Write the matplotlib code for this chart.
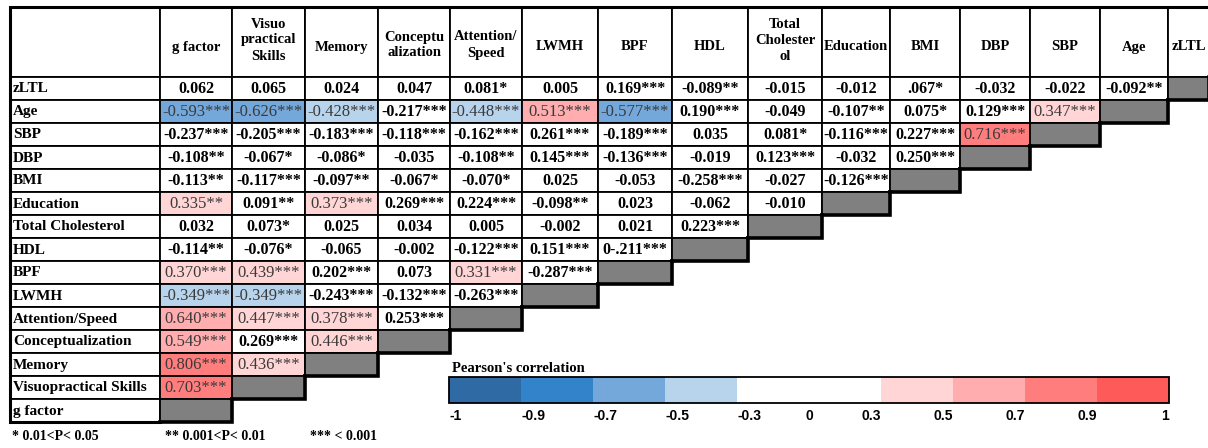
import matplotlib
matplotlib.use("Agg")
import matplotlib.pyplot as plt
from matplotlib.patches import Rectangle
from matplotlib.colors import ListedColormap, BoundaryNorm
import matplotlib.colorbar as mcolorbar

# ---- table content -------------------------------------------------------
col_headers = ["g factor", "Visuo\npractical\nSkills", "Memory", "Conceptu\nalization",
               "Attention/\nSpeed", "LWMH", "BPF", "HDL", "Total\nCholester\nol",
               "Education", "BMI", "DBP", "SBP", "Age", "zLTL"]

row_labels = ["zLTL", "Age", "SBP", "DBP", "BMI", "Education", "Total Cholesterol",
              "HDL", "BPF", "LWMH", "Attention/Speed", "Conceptualization",
              "Memory", "Visuopractical Skills", "g factor"]

r_zltl = ["0.062", "0.065", "0.024", "0.047", "0.081*", "0.005", "0.169***", "-0.089**",
          "-0.015", "-0.012", ".067*", "-0.032", "-0.022", "-0.092**"]
r_age = ["-0.593***", "-0.626***", "-0.428***", "-0.217***", "-0.448***", "0.513***",
         "-0.577***", "0.190***", "-0.049", "-0.107**", "0.075*", "0.129***", "0.347***"]
r_sbp = ["-0.237***", "-0.205***", "-0.183***", "-0.118***", "-0.162***", "0.261***",
         "-0.189***", "0.035", "0.081*", "-0.116***", "0.227***", "0.716***"]
r_dbp = ["-0.108**", "-0.067*", "-0.086*", "-0.035", "-0.108**", "0.145***", "-0.136***",
         "-0.019", "0.123***", "-0.032", "0.250***"]
r_bmi = ["-0.113**", "-0.117***", "-0.097**", "-0.067*", "-0.070*", "0.025", "-0.053",
         "-0.258***", "-0.027", "-0.126***"]
r_education = ["0.335**", "0.091**", "0.373***", "0.269***", "0.224***", "-0.098**",
               "0.023", "-0.062", "-0.010"]
r_cholesterol = ["0.032", "0.073*", "0.025", "0.034", "0.005", "-0.002", "0.021", "0.223***"]
r_hdl = ["-0.114**", "-0.076*", "-0.065", "-0.002", "-0.122***", "0.151***", "0-.211***"]
r_bpf = ["0.370***", "0.439***", "0.202***", "0.073", "0.331***", "-0.287***"]
r_lwmh = ["-0.349***", "-0.349***", "-0.243***", "-0.132***", "-0.263***"]
r_attention = ["0.640***", "0.447***", "0.378***", "0.253***"]
r_concept = ["0.549***", "0.269***", "0.446***"]
r_memory = ["0.806***", "0.436***"]
r_visuo = ["0.703***"]
r_gfactor = []

rows = [r_zltl, r_age, r_sbp, r_dbp, r_bmi, r_education, r_cholesterol, r_hdl,
        r_bpf, r_lwmh, r_attention, r_concept, r_memory, r_visuo, r_gfactor]

# colour classes of Pearson's r
bin_edges = [-1, -0.9, -0.7, -0.5, -0.3, 0, 0.3, 0.5, 0.7, 0.9, 1]
bin_colors = ["#2F6AA5", "#3383CB", "#74A8DA", "#B8D4EC", "#FFFFFF",
              "#FFFFFF", "#FFD5D6", "#FFADAE", "#FF7D7D", "#FF5A5A"]
tick_labels = ["-1", "-0.9", "-0.7", "-0.5", "-0.3", "0", "0.3", "0.5", "0.7", "0.9", "1"]

footnotes = ["* 0.01<P< 0.05", "** 0.001<P< 0.01", "*** < 0.001"]


def r_value(cell):
    """Numeric coefficient from a printed cell such as '-0.108**'."""
    return float(cell.rstrip("*").replace("0-.", "-0."))


# ---- layout (pixels) -----------------------------------------------------
W, H = 1208, 448
col_edges = [10, 160, 232, 305, 378, 450, 522, 598, 672, 748, 822, 890, 960,
             1030, 1100, 1168, 1209]
head_top, head_bot, row_h = 7, 77, 23
lw_in, lw_out, lw_step = 1.3, 2.2, 2.6
serif = "Liberation Serif"
sans = "Liberation Sans"

cmap = ListedColormap(bin_colors)
norm = BoundaryNorm(bin_edges, cmap.N)

fig = plt.figure(figsize=(W / 100, H / 100), dpi=100)
ax = fig.add_axes([0, 0, 1, 1])
ax.set_xlim(0, W)
ax.set_ylim(H, 0)
ax.axis("off")

# header row
for j in range(len(col_edges) - 1):
    x0, x1 = col_edges[j], col_edges[j + 1]
    ax.add_patch(Rectangle((x0, head_top), x1 - x0, head_bot - head_top,
                           fc="white", ec="black", lw=lw_in))
    if j == 0:
        continue
    text = col_headers[j - 1]
    nlines = text.count("\n") + 1
    yc = {1: 47, 2: 45, 3: 40}[nlines]
    ax.text((x0 + x1) / 2, yc, text, ha="center", va="center", fontsize=10.5,
            fontweight="bold", family=serif, linespacing=1.3)

# body rows
for i, (label, row) in enumerate(zip(row_labels, rows)):
    y0 = head_bot + i * row_h
    ax.add_patch(Rectangle((col_edges[0], y0), col_edges[1] - col_edges[0], row_h,
                           fc="white", ec="black", lw=lw_in))
    ax.text(col_edges[0] + 3, y0 + row_h / 2 + 0.5, label, ha="left", va="center",
            fontsize=11, fontweight="bold", family=serif)
    for j, cell in enumerate(row):
        x0, x1 = col_edges[j + 1], col_edges[j + 2]
        v = r_value(cell)
        colored = abs(v) >= 0.3
        ax.add_patch(Rectangle((x0, y0), x1 - x0, row_h, fc=cmap(norm(v)),
                               ec="black", lw=lw_in))
        if colored:
            ax.text((x0 + x1) / 2, y0 + row_h / 2 + 0.5, cell, ha="center", va="center",
                    fontsize=12, color="#3a3a3a", family=serif)
        else:
            ax.text((x0 + x1) / 2, y0 + row_h / 2 + 0.5, cell, ha="center", va="center",
                    fontsize=11.5, fontweight="bold", color="black", family=serif)
    # diagonal (grey) cell with heavy right / bottom edge
    k = len(row)
    x0, x1 = col_edges[k + 1], col_edges[k + 2]
    ax.add_patch(Rectangle((x0, y0), x1 - x0, row_h, fc="#808080", ec="black", lw=lw_in))
    ax.plot([x0, x1, x1], [y0 + row_h, y0 + row_h, y0], color="black", lw=lw_step,
            solid_joinstyle="miter", solid_capstyle="projecting")

# outer frame
bottom = head_bot + len(rows) * row_h
ax.plot([col_edges[-1], col_edges[0], col_edges[0], col_edges[1]],
        [head_top, head_top, bottom, bottom], color="black", lw=lw_out,
        solid_joinstyle="miter")

# footnotes
for x, note in zip([12, 165, 310], footnotes):
    ax.text(x, 437, note, ha="left", va="center", fontsize=10, fontweight="bold",
            family=serif)

# colour key
ax.text(452, 368, "Pearson's correlation", ha="left", va="center", fontsize=10.5,
        fontweight="bold", family=serif)
cax = fig.add_axes([449 / W, 1 - 403 / H, 720 / W, 26 / H])
cb = mcolorbar.ColorbarBase(cax, cmap=cmap, norm=norm, boundaries=bin_edges,
                            spacing="uniform", orientation="horizontal", ticks=bin_edges)
cb.set_ticklabels(tick_labels)
cb.outline.set_linewidth(1.3)
cax.tick_params(length=0, pad=4)
for lbl, v in zip(cax.get_xticklabels(), bin_edges):
    lbl.set_fontfamily(sans)
    lbl.set_fontweight("bold")
    lbl.set_fontsize(10)
    lbl.set_horizontalalignment("left" if v < 0 else ("center" if v == 0 else "right"))

fig.savefig("out.png", dpi=100)
